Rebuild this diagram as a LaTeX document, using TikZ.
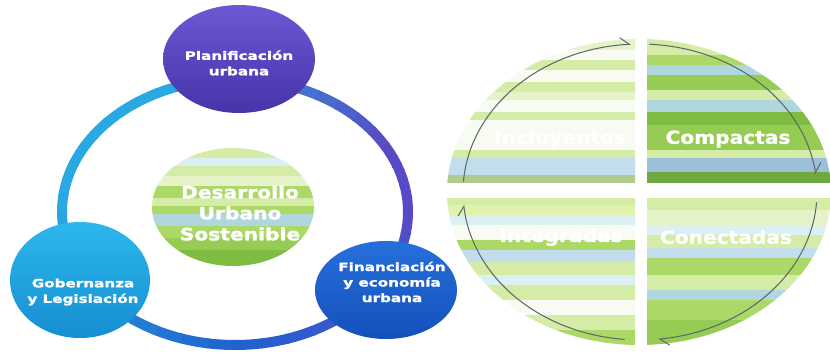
\documentclass[tikz,border=0pt]{standalone}
\usepackage{fontspec}
\usetikzlibrary{shapes.geometric,arrows.meta}
\newfontfamily\wfont{DejaVu Sans Bold}[FakeStretch=1.32, FakeBold=1.6]
\newfontfamily\cfont{DejaVu Sans Bold}[FakeStretch=1.19, FakeBold=1.6]
\newfontfamily\rfont{DejaVu Sans Bold}[FakeStretch=1.12, FakeBold=1.2]
% ring colours
\definecolor{ringP}{RGB}{88,74,196}
\definecolor{ringB}{RGB}{32,98,208}
\definecolor{ringC}{RGB}{42,168,226}
% node colours
\definecolor{planT}{RGB}{108,88,212}
\definecolor{planB}{RGB}{70,52,170}
\definecolor{gobT}{RGB}{44,184,236}
\definecolor{gobB}{RGB}{22,142,210}
\definecolor{finT}{RGB}{38,112,218}
\definecolor{finB}{RGB}{20,80,188}
% stripe colours
\definecolor{sW}{RGB}{247,251,242}
\definecolor{sPG}{RGB}{230,243,200}
\definecolor{sLG}{RGB}{212,236,166}
\definecolor{sYG}{RGB}{224,242,172}
\definecolor{sPC}{RGB}{218,240,242}
\definecolor{sLB}{RGB}{194,222,236}
\definecolor{sGG}{RGB}{176,204,140}
\definecolor{sG}{RGB}{172,216,104}
\definecolor{sMG}{RGB}{150,204,84}
\definecolor{sDG}{RGB}{126,188,66}
\definecolor{sXG}{RGB}{110,168,62}
\definecolor{sBB}{RGB}{156,192,216}
\definecolor{sMB}{RGB}{176,214,222}
\definecolor{arcC}{RGB}{92,100,104}
\tikzset{
  bubble/.style={ellipse, inner sep=0pt},
  btext/.style={text=white, align=center, inner sep=0pt,
    font=\wfont\fontsize{11.5}{15.5}\selectfont},
  ctext/.style={text=white, align=center,
    font=\cfont\fontsize{17}{21}\selectfont},
  qtext/.style={text=white, font=\rfont\fontsize{18}{22}\selectfont},
  cyc/.style={draw=arcC, line width=1pt,
    -{Straight Barb[length=9pt,width=14pt,harpoon]}},
}
\newcommand{\stripeset}[1]{\foreach \ya/\yb/\cc in {#1}{\fill[\cc] (0,\ya) rectangle (840,\yb);}}
\begin{document}
\begin{tikzpicture}[x=1pt,y=-1pt]
\useasboundingbox (0,0) rectangle (830,353);
\fill[white] (0,0) rectangle (830,353);

% ---- ring ----
\foreach \s/\e/\ca/\cb in {0/90/ringP/ringB, 90/180/ringB/ringC, 180/250/ringC/ringC, 250/330/ringC/ringP, 330/360/ringP/ringP}{
  \foreach \i in {0,...,9}{
    \pgfmathsetmacro\ta{\s+(\e-\s)*\i/10}
    \pgfmathsetmacro\tb{\s+(\e-\s)*(\i+1)/10+0.6}
    \pgfmathtruncatemacro\p{95-10*\i}
    \draw[line width=10pt, color=\ca!\p!\cb] plot[domain=\ta:\tb, samples=6] ({235+173*cos(\x)},{212+133*sin(\x)});
  }
}

% ---- centre circle ----
\begin{scope}
  \clip (233,207) ellipse [x radius=81pt, y radius=59pt];
  \stripeset{140/158/sLG, 158/166/sPC, 166/176/sLG, 176/186/sPG, 186/198/sG, 198/206/sLG, 206/214/sG, 214/226/sMB, 226/238/sG, 238/250/sMG, 250/270/sDG}
\end{scope}
\node[ctext] (dus) at (240,213) {Desarrollo\\Urbano\\Sostenible};

% ---- outer nodes ----
\node[bubble, top color=planT, bottom color=planB, minimum width=152pt, minimum height=108pt,
  label={[btext, yshift=-4pt]center:Planificación\\urbana}] (plan) at (239,59) {};
\node[bubble, top color=gobT, bottom color=gobB, minimum width=140pt, minimum height=116pt,
  label={[btext, yshift=-12pt, xshift=3pt]center:Gobernanza\\y Legislación}] (gob) at (80,280) {};
\node[bubble, top color=finT, bottom color=finB, minimum width=142pt, minimum height=98pt,
  label={[btext, yshift=8pt, xshift=6pt]center:Financiación\\y economía\\urbana}] (fin) at (386,290) {};

% ---- right oval: four quadrants ----
\begin{scope}
  \clip (639,192) ellipse [x radius=192pt, y radius=153pt];
  \begin{scope}
    \clip (440,30) rectangle (635,183);
    \stripeset{30/50/sPG, 50/60/sW, 60/70/sLG, 70/82/sW, 82/92/sLG, 92/100/sPG, 100/112/sW, 112/120/sLG, 120/150/sW, 150/158/sLG, 158/175/sLB, 175/183/sGG}
  \end{scope}
  \begin{scope}
    \clip (647,30) rectangle (835,183);
    \stripeset{30/55/sLG, 55/65/sG, 65/75/sMB, 75/90/sMG, 90/100/sLG, 100/112/sMB, 112/125/sDG, 125/150/sMG, 150/158/sLG, 158/172/sBB, 172/183/sXG}
  \end{scope}
  \begin{scope}
    \clip (440,198) rectangle (635,350);
    \stripeset{198/205/sLG, 205/215/sYG, 215/225/sPC, 225/240/sW, 240/250/sG, 250/262/sLB, 262/275/sLG, 275/285/sPC, 285/300/sLG, 300/315/sW, 315/330/sLG, 330/350/sG}
  \end{scope}
  \begin{scope}
    \clip (647,198) rectangle (835,350);
    \stripeset{198/210/sLG, 210/225/sPG, 225/235/sPC, 235/248/sLG, 248/258/sLB, 258/275/sG, 275/290/sLG, 290/300/sMB, 300/320/sG, 320/350/sMG}
  \end{scope}
\end{scope}

% ---- cycle arrows ----
\draw[cyc] plot[domain=184:267, samples=40] ({640+177*cos(\x)},{192+148*sin(\x)});
\draw[cyc] plot[domain=273:353, samples=40] ({640+177*cos(\x)},{192+148*sin(\x)});
\draw[cyc] plot[domain=4:84, samples=40] ({640+177*cos(\x)},{192+148*sin(\x)});
\draw[cyc] plot[domain=95:175, samples=40] ({640+177*cos(\x)},{192+148*sin(\x)});

% ---- quadrant labels ----
\node[qtext] (inc) at (560,139) {Incluyentes};
\node[qtext] (com) at (728,139) {Compactas};
\node[qtext] (int) at (561,237) {Integradas};
\node[qtext] (con) at (726,237) {Conectadas};
\end{tikzpicture}
\end{document}
